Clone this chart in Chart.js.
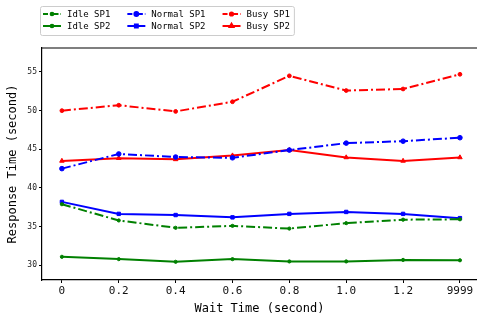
<!DOCTYPE html>
<html>
<head>
<meta charset="utf-8">
<script src="https://cdn.jsdelivr.net/npm/chart.js@4.4.1/dist/chart.umd.min.js"></script>
<style>
  html, body { margin: 0; padding: 0; background: #fff; }
  #wrap { width: 477px; height: 320px; }
</style>
</head>
<body>
<div id="wrap"><canvas id="grafica"></canvas></div>
<script>
// datos
const tiemposEspera = ['0', '0.2', '0.4', '0.6', '0.8', '1.0', '1.2', '9999'];
const ticksY = [30, 35, 40, 45, 50, 55];

const idleSP1 = [37.9, 35.8, 34.85, 35.1, 34.75, 35.45, 35.9, 35.95];
const idleSP2 = [31.1, 30.8, 30.45, 30.8, 30.5, 30.5, 30.7, 30.65];
const normalSP1 = [42.5, 44.4, 44.0, 43.9, 44.9, 45.8, 46.05, 46.5];
const normalSP2 = [38.2, 36.65, 36.5, 36.2, 36.65, 36.9, 36.65, 36.1];
const busySP1 = [50.0, 50.7, 49.9, 51.15, 54.5, 52.6, 52.8, 54.7];
const busySP2 = [43.5, 43.85, 43.7, 44.2, 44.9, 43.95, 43.5, 43.95];

const FUENTE = "'DejaVu Sans Mono', monospace";
const guionPunto = [9, 3, 2, 3];

const serie = (label, valores, color, dash, forma, radio) => ({
  label,
  data: valores.map((v, i) => ({ x: i, y: v })),
  borderColor: color,
  backgroundColor: color,
  borderWidth: 2,
  borderDash: dash,
  pointStyle: forma,
  pointRadius: radio,
  pointBorderWidth: 1,
  tension: 0,
});

const datasets = [
  serie('Idle SP1', idleSP1, '#008000', guionPunto, 'circle', 1.6),
  serie('Idle SP2', idleSP2, '#008000', [], 'circle', 1.6),
  serie('Normal SP1', normalSP1, '#0000ff', guionPunto, 'circle', 2.3),
  serie('Normal SP2', normalSP2, '#0000ff', [], 'rect', 2.4),
  serie('Busy SP1', busySP1, '#ff0000', guionPunto, 'circle', 1.9),
  serie('Busy SP2', busySP2, '#ff0000', [], 'triangle', 2.6),
];

// leyenda estilo matplotlib: 3 columnas, 2 filas, orden por columnas
const leyenda = {
  id: 'leyenda',
  afterDraw(chart) {
    const ctx = chart.ctx;
    const x0 = 40, y0 = 6, alto = 29;
    const largoLinea = 18, hueco = 6, sepCol = 17;
    ctx.save();
    ctx.font = '9px ' + FUENTE;
    const cols = [];
    let x = x0 + 3;
    for (let c = 0; c < 3; c++) {
      const a = chart.data.datasets[c * 2], b = chart.data.datasets[c * 2 + 1];
      const w = Math.max(ctx.measureText(a.label).width, ctx.measureText(b.label).width);
      cols.push(x);
      x += largoLinea + hueco + w + sepCol;
    }
    const ancho = x - sepCol + 4 - x0;
    ctx.beginPath();
    ctx.roundRect(x0 + 0.5, y0 + 0.5, ancho, alto, 2);
    ctx.fillStyle = 'rgba(255,255,255,0.85)';
    ctx.fill();
    ctx.strokeStyle = '#cccccc';
    ctx.lineWidth = 1;
    ctx.stroke();
    chart.data.datasets.forEach((ds, i) => {
      const cx = cols[Math.floor(i / 2)];
      const cy = i % 2 === 0 ? 14 : 26;
      ctx.beginPath();
      ctx.setLineDash(ds.borderDash.length ? [5, 2, 1.5, 2] : []);
      ctx.strokeStyle = ds.borderColor;
      ctx.lineWidth = 2;
      ctx.moveTo(cx, cy);
      ctx.lineTo(cx + largoLinea, cy);
      ctx.stroke();
      ctx.setLineDash([]);
      ctx.fillStyle = ds.backgroundColor;
      Chart.helpers.drawPoint(ctx, {
        pointStyle: ds.pointStyle, radius: ds.pointRadius * 0.85, rotation: 0, borderWidth: 1,
      }, cx + largoLinea / 2, cy);
      ctx.fillStyle = '#000';
      ctx.textBaseline = 'middle';
      ctx.fillText(ds.label, cx + largoLinea + hueco, cy + 0.5);
    });
    // borde superior del area de la grafica
    const area = chart.chartArea;
    ctx.beginPath();
    ctx.strokeStyle = '#000';
    ctx.lineWidth = 1.2;
    ctx.moveTo(area.left, area.top);
    ctx.lineTo(area.right, area.top);
    ctx.stroke();
    ctx.restore();
  },
};

new Chart(document.getElementById('grafica'), {
  type: 'line',
  data: { datasets },
  plugins: [leyenda],
  options: {
    responsive: true,
    maintainAspectRatio: false,
    animation: false,
    layout: { autoPadding: false, padding: { top: 48, left: 0, right: 0, bottom: 0 } },
    plugins: {
      legend: { display: false },
      tooltip: { enabled: false },
    },
    scales: {
      x: {
        type: 'linear',
        min: -0.35,
        max: 7.3,
        afterFit: (s) => { s.height = 40; s.paddingLeft = 0; s.paddingRight = 0; },
        afterBuildTicks: (s) => { s.ticks = tiemposEspera.map((_, i) => ({ value: i })); },
        grid: { drawOnChartArea: false, tickLength: 3, color: '#000', tickWidth: 1 },
        border: { color: '#000', width: 1.2 },
        ticks: {
          autoSkip: false,
          maxRotation: 0,
          padding: 2,
          color: '#111',
          font: { family: FUENTE, size: 11 },
          callback: (v) => tiemposEspera[v],
        },
        title: {
          display: true,
          text: 'Wait Time (second)',
          color: '#000',
          font: { family: FUENTE, size: 12 },
          padding: { top: 4, bottom: 4 },
        },
      },
      y: {
        min: 28.1,
        max: 58.1,
        afterFit: (s) => { s.width = 42; s.paddingTop = 0; s.paddingBottom = 0; },
        afterBuildTicks: (s) => { s.ticks = ticksY.map((v) => ({ value: v })); },
        grid: { drawOnChartArea: false, tickLength: 3, color: '#000', tickWidth: 1 },
        border: { color: '#000', width: 1.2 },
        ticks: {
          padding: 2,
          color: '#222',
          font: { family: FUENTE, size: 8 },
        },
        title: {
          display: true,
          text: 'Response Time (second)',
          color: '#000',
          font: { family: FUENTE, size: 12 },
          padding: { top: 6, bottom: 2 },
        },
      },
    },
  },
});
</script>
</body>
</html>
